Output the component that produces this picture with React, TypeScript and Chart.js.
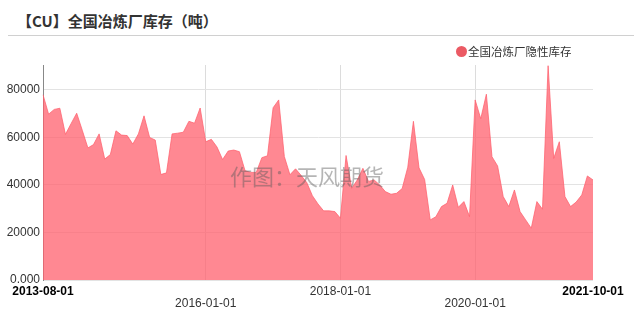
import React, { useEffect, useRef } from 'react';
import { Chart, registerables } from 'chart.js';

Chart.register(...registerables);

const titleText = '【CU】全国冶炼厂库存（吨）';
const seriesName = '全国冶炼厂隐性库存';
const watermarkText = '作图：天风期货';

const categories = [
  '2013-08-01', '2013-09-01', '2013-10-01', '2013-11-01', '2013-12-01',
  '2014-01-01', '2014-02-01', '2014-03-01', '2014-04-01', '2014-05-01', '2014-06-01', '2014-07-01', '2014-08-01', '2014-09-01', '2014-10-01', '2014-11-01', '2014-12-01',
  '2015-01-01', '2015-02-01', '2015-03-01', '2015-04-01', '2015-05-01', '2015-06-01', '2015-07-01', '2015-08-01', '2015-09-01', '2015-10-01', '2015-11-01', '2015-12-01',
  '2016-01-01', '2016-02-01', '2016-03-01', '2016-04-01', '2016-05-01', '2016-06-01', '2016-07-01', '2016-08-01', '2016-09-01', '2016-10-01', '2016-11-01', '2016-12-01',
  '2017-01-01', '2017-02-01', '2017-03-01', '2017-04-01', '2017-05-01', '2017-06-01', '2017-07-01', '2017-08-01', '2017-09-01', '2017-10-01', '2017-11-01', '2017-12-01',
  '2018-01-01', '2018-02-01', '2018-03-01', '2018-04-01', '2018-05-01', '2018-06-01', '2018-07-01', '2018-08-01', '2018-09-01', '2018-10-01', '2018-11-01', '2018-12-01',
  '2019-01-01', '2019-02-01', '2019-03-01', '2019-04-01', '2019-05-01', '2019-06-01', '2019-07-01', '2019-08-01', '2019-09-01', '2019-10-01', '2019-11-01', '2019-12-01',
  '2020-01-01', '2020-02-01', '2020-03-01', '2020-04-01', '2020-05-01', '2020-06-01', '2020-07-01', '2020-08-01', '2020-09-01', '2020-10-01', '2020-11-01', '2020-12-01',
  '2021-01-01', '2021-02-01', '2021-03-01', '2021-04-01', '2021-05-01', '2021-06-01', '2021-07-01', '2021-08-01', '2021-09-01', '2021-10-01',
];

const inventory = [
  78000, 69800, 71800, 72300, 61300,
  65800, 70200, 63000, 55600, 57000, 61500, 50900, 52800, 62800, 61000, 60800, 57200,
  61500, 69100, 60000, 58900, 44400, 45100, 61500, 61800, 62200, 66800, 66000, 72400,
  58200, 59200, 56000, 50700, 54300, 54700, 54000, 46000, 45300, 45300, 51500, 52300,
  72500, 75800, 52000, 44300, 46800, 44000, 41000, 35500, 32000, 29100, 29100, 28800,
  26000, 52400, 38600, 42100, 47000, 41500, 42100, 40000, 37200, 36100, 36500, 38500,
  47500, 66800, 47200, 42300, 25300, 26600, 30900, 32300, 40000, 30600, 33000, 26700,
  75800, 67900, 78200, 51900, 48000, 35100, 30900, 37900, 28800, 25300, 21800, 33000,
  29800, 90200, 51200, 58200, 35100, 30900, 32800, 35800, 43800, 42100,
];

const shownTicks = ['2013-08-01', '2016-01-01', '2018-01-01', '2020-01-01', '2021-10-01'];
const lowerRowTicks = ['2016-01-01', '2020-01-01'];
const boldTicks = ['2013-08-01', '2021-10-01'];
const gridTicks = ['2016-01-01', '2018-01-01', '2020-01-01'];

const yTicks = [0, 20000, 40000, 60000, 80000];
const yTickLabels = ['0.000', '20000', '40000', '60000', '80000'];
const yMax = 90500;

const LATIN = '"Liberation Sans", Arial, sans-serif';
const CJK = '"Noto Sans CJK SC", "Noto Sans", sans-serif';
const FILL = 'rgba(255, 96, 110, 0.75)';

export default function App() {
  const ref = useRef<HTMLCanvasElement | null>(null);

  useEffect(() => {
    if (!ref.current) return;
    const chart = new Chart(ref.current, {
      type: 'line',
      data: {
        labels: categories,
        datasets: [
          {
            label: seriesName,
            data: inventory,
            fill: 'origin',
            backgroundColor: FILL,
            borderColor: FILL,
            borderWidth: 1,
            pointRadius: 0,
            tension: 0,
          },
        ],
      },
      options: {
        animation: false,
        responsive: false,
        layout: { padding: { left: 0, right: 47, top: 65, bottom: 0 } },
        plugins: { legend: { display: false }, tooltip: { enabled: false } },
        scales: {
          x: {
            type: 'category',
            offset: false,
            grid: {
              color: (ctx: any) =>
                gridTicks.includes(categories[ctx.index]) ? '#dcdcdc' : 'rgba(0,0,0,0)',
              drawTicks: false,
              lineWidth: 1,
            },
            border: { display: false },
            ticks: {
              autoSkip: false,
              maxRotation: 0,
              minRotation: 0,
              padding: 6,
              callback: (_v: any, i: number) => {
                const l = categories[i];
                if (!shownTicks.includes(l)) return '';
                return lowerRowTicks.includes(l) ? ['', l] : l;
              },
              font: (ctx: any) => ({
                family: LATIN,
                size: 12,
                lineHeight: 1,
                weight: boldTicks.includes(categories[ctx.index]) ? 'bold' : 'normal',
              }),
              color: (ctx: any) => (boldTicks.includes(categories[ctx.index]) ? '#000' : '#333'),
            },
            afterFit: (s: any) => {
              s.height = 33;
              s.paddingLeft = 0;
              s.paddingRight = 0;
            },
          } as any,
          y: {
            min: 0,
            max: yMax,
            grid: { color: '#e3e3e3', drawTicks: false, lineWidth: 1 },
            border: { display: true, color: '#888', width: 1 },
            ticks: {
              padding: 3,
              includeBounds: false,
              font: { family: LATIN, size: 12 },
              color: '#333',
              callback: (v: any) => {
                const k = yTicks.indexOf(Number(v));
                return k >= 0 ? yTickLabels[k] : '';
              },
            },
            afterBuildTicks: (s: any) => {
              s.ticks = yTicks.map((v) => ({ value: v }));
            },
            afterFit: (s: any) => {
              s.width = 43;
            },
          } as any,
        },
      },
    });
    return () => chart.destroy();
  }, []);

  return (
    <div
      style={{
        position: 'fixed',
        left: 0,
        top: 0,
        width: 640,
        height: 313,
        background: '#fff',
        overflow: 'hidden',
      }}
    >
      <div
        style={{
          position: 'absolute',
          left: 17,
          top: 11,
          fontFamily: CJK,
          fontSize: 15,
          fontWeight: 'bold',
          lineHeight: '20px',
          color: '#333',
          whiteSpace: 'nowrap',
        }}
      >
        {titleText}
      </div>
      <div
        style={{
          position: 'absolute',
          left: 8,
          top: 35,
          width: 626,
          height: 1,
          background: '#d0d0d0',
        }}
      />
      <canvas
        ref={ref}
        width={640}
        height={313}
        style={{ position: 'absolute', left: 0, top: 0, width: 640, height: 313 }}
      />
      <div
        style={{
          position: 'absolute',
          left: 456,
          top: 46,
          width: 11,
          height: 11,
          borderRadius: '50%',
          background: '#eb5a64',
        }}
      />
      <div
        style={{
          position: 'absolute',
          left: 468,
          top: 44,
          fontFamily: CJK,
          fontSize: 11.5,
          lineHeight: '14px',
          color: '#333',
          whiteSpace: 'nowrap',
        }}
      >
        {seriesName}
      </div>
      <div
        style={{
          position: 'absolute',
          left: 230,
          top: 160,
          fontFamily: CJK,
          fontSize: 22,
          lineHeight: '30px',
          color: 'rgba(90, 90, 90, 0.45)',
          whiteSpace: 'nowrap',
          pointerEvents: 'none',
        }}
      >
        {watermarkText}
      </div>
    </div>
  );
}
